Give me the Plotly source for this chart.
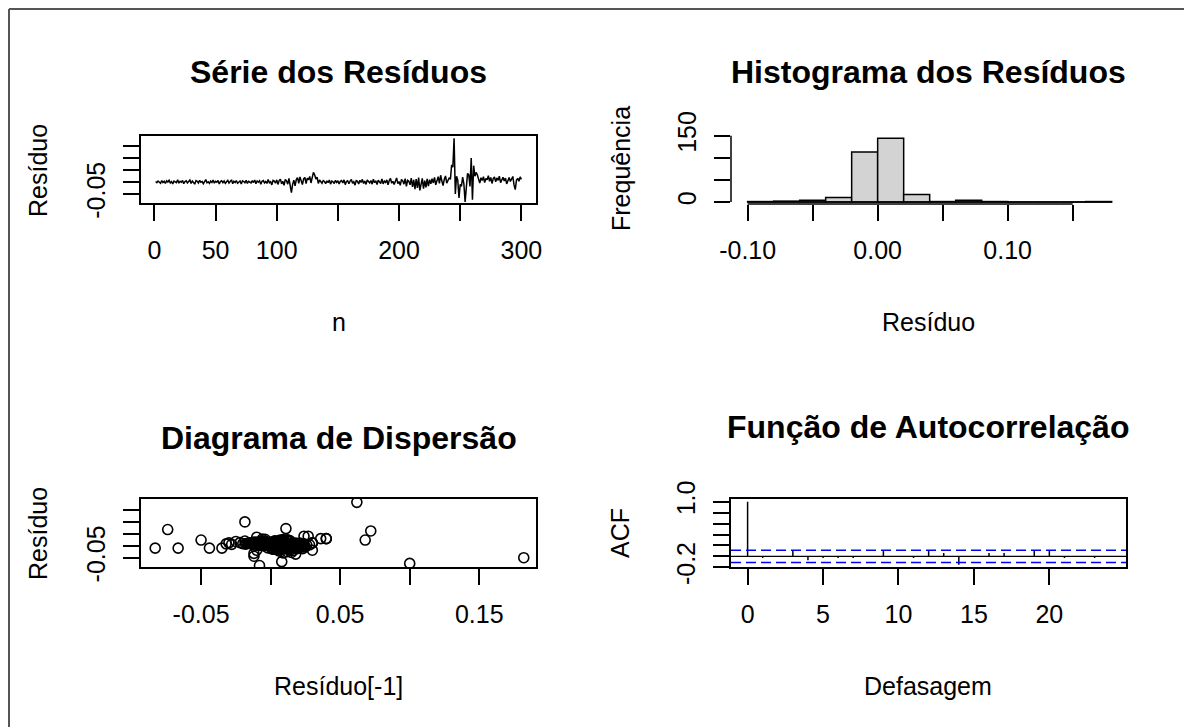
import plotly.graph_objects as go

W, H = 1192, 727

# ---------------- data ----------------
residuo = [
    0.002, -0.003, 0.004, 0.001, -0.005, 0.006, -0.002, 0.003, -0.006, 0.005,
    0.000, 0.007, -0.004, 0.002, -0.008, 0.004, 0.001, -0.003, 0.009, -0.005,
    0.003, -0.001, 0.006, -0.007, 0.002, 0.005, -0.004, 0.001, 0.008, -0.006,
    0.004, -0.002, -0.009, 0.006, 0.003, -0.004, 0.007, -0.001, 0.002, -0.007,
    0.005, 0.010, -0.003, 0.001, -0.006, 0.004, -0.002, 0.008, -0.005, 0.003,
    -0.001, 0.006, -0.008, 0.002, 0.005, -0.003, 0.004, -0.006, 0.001, 0.007,
    -0.004, 0.002, 0.009, -0.007, 0.003, -0.002, 0.006, -0.005, 0.000, 0.004,
    -0.008, 0.005, 0.002, -0.003, 0.007, -0.006, 0.003, 0.001, -0.004, 0.006,
    -0.002, 0.008, -0.007, 0.004, -0.001, 0.005, -0.009, 0.003, 0.006, -0.004,
    0.002, -0.006, 0.010, -0.003, 0.001, -0.012, 0.007, 0.004, -0.005, 0.009,
    -0.010, 0.006, 0.012, -0.008, 0.003, -0.014, 0.011, 0.005, -0.009, 0.015,
    -0.012, -0.044, -0.010, 0.008, -0.016, 0.010, 0.018, -0.006, 0.021, 0.004,
    -0.011, 0.013, 0.019, -0.007, 0.016, 0.009, 0.023, -0.004, 0.027, 0.040,
    0.030, 0.012, 0.020, -0.006, 0.008, 0.003, -0.005, 0.006, 0.002, -0.007,
    0.005, -0.003, 0.008, -0.009, 0.004, 0.001, -0.006, 0.007, -0.002, 0.005,
    -0.008, 0.003, 0.006, -0.004, 0.009, -0.011, 0.002, 0.005, -0.007, 0.004,
    0.010, -0.005, 0.001, -0.013, 0.006, 0.003, -0.008, 0.007, -0.002, 0.011,
    -0.006, 0.004, -0.010, 0.008, 0.002, -0.004, 0.006, -0.009, 0.012, -0.003,
    0.005, -0.011, 0.007, 0.001, -0.006, 0.013, -0.008, 0.004, -0.002, 0.009,
    -0.012, 0.006, 0.015, -0.005, 0.003, -0.010, 0.008, 0.017, -0.007, 0.002,
    -0.014, 0.011, 0.005, -0.009, 0.014, -0.018, 0.007, 0.003, -0.012, 0.016,
    -0.020, 0.009, -0.030, 0.012, -0.025, 0.018, -0.035, -0.010, 0.015, -0.028,
    0.006, -0.022, 0.013, -0.017, 0.010, -0.008, 0.014, -0.004, 0.019, -0.012,
    0.008, 0.022, -0.006, 0.028, 0.004, -0.015, 0.012, 0.025, -0.005, 0.010,
    0.018, 0.011, 0.072, 0.062, 0.182, -0.050, 0.024, 0.008, -0.0665, -0.010,
    -0.0185, 0.020, -0.008, -0.083, -0.010, 0.036, 0.030, -0.0185, 0.100, -0.074,
    0.068, 0.024, 0.040, 0.030, 0.012, -0.004, 0.018, 0.006, 0.022, -0.002,
    0.015, 0.009, 0.026, 0.003, 0.019, -0.006, 0.014, 0.021, 0.001, 0.017,
    0.007, 0.024, -0.003, 0.012, 0.020, 0.004, 0.016, -0.008, 0.010, 0.019,
    0.002, 0.013, 0.023, -0.012, -0.032, 0.008, 0.015, 0.003, 0.021, 0.011,
]
n = list(range(1, len(residuo) + 1))

hist_edges = [-0.10, -0.08, -0.06, -0.04, -0.02, 0.00, 0.02, 0.04,
              0.06, 0.08, 0.10, 0.12, 0.14, 0.16, 0.18]
hist_counts = [1, 2, 4, 10, 113, 144, 17, 1, 4, 1, 0, 0, 0, 1]

acf_lags = list(range(25))
acf_vals = [1.0, -0.03, 0.005, 0.11, -0.07, -0.03, -0.03, -0.03, 0.005, 0.115,
            0.005, -0.03, 0.115, 0.06, -0.155, 0.005, 0.06, 0.06, 0.005, 0.115,
            0.115, -0.03, 0.005, -0.03, 0.005]
acf_ci = 0.113

# tick labels (R drops overlapping ones)
ts_xticks = [0, 50, 100, 150, 200, 250, 300]
ts_xtext = ["0", "50", "100", "", "200", "", "300"]
res_yticks = [-0.05, 0.0, 0.05, 0.10, 0.15]
res_ytext = ["-0.05", "", "", "", ""]
hist_xticks = [-0.10, -0.05, 0.0, 0.05, 0.10, 0.15]
hist_xtext = ["-0.10", "", "0.00", "", "0.10", ""]
hist_yticks = [0, 50, 100, 150]
hist_ytext = ["0", "", "", "150"]
sc_xticks = [-0.05, 0.0, 0.05, 0.10, 0.15]
sc_xtext = ["-0.05", "", "0.05", "", "0.15"]
acf_xticks = [0, 5, 10, 15, 20]
acf_xtext = ["0", "5", "10", "15", "20"]
acf_yticks = [-0.2, 0.0, 0.2, 0.4, 0.6, 0.8, 1.0]
acf_ytext = ["-0.2", "", "", "", "", "", "1.0"]

# ---------------- helpers ----------------
OFF = 8  # page body margin: figure is drawn 8px right/down of the window origin


def fx(p):
    return (p - OFF) / W


def fy(p):
    return 1 - (p - OFF) / H


FONT = "Arial, Liberation Sans, sans-serif"
TICKFONT = dict(family=FONT, size=25, color="black")
LW = 1.5

LEFT = (141, 536)
RIGHT = (731, 1126)
ROW1 = (136, 203)
ROW2 = (499, 567)


def axis(domain, rng, tickvals, ticktext, box=True, angle=None, anchor=None, standoff=8):
    d = dict(domain=domain, range=rng, tickvals=tickvals, ticktext=ticktext,
             tickmode="array", automargin=False,
             ticks="outside", ticklen=16, tickwidth=LW, tickcolor="black",
             showgrid=False, zeroline=False, tickfont=TICKFONT,
             showline=box, mirror=box, linecolor="black", linewidth=LW,
             ticklabelstandoff=standoff, fixedrange=True)
    if angle is not None:
        d["tickangle"] = angle
    if anchor:
        d["anchor"] = anchor
    return d


fig = go.Figure()

# Panel 1: série
fig.add_trace(go.Scatter(x=n, y=residuo, mode="lines",
                         line=dict(color="black", width=1.5),
                         xaxis="x", yaxis="y", showlegend=False))

# Panel 2: histograma
centers = [(a + b) / 2 for a, b in zip(hist_edges[:-1], hist_edges[1:])]
fig.add_trace(go.Bar(x=centers, y=hist_counts, width=hist_edges[1] - hist_edges[0],
                     marker=dict(color="#D3D3D3", line=dict(color="black", width=LW)),
                     xaxis="x2", yaxis="y2", showlegend=False))

# Panel 3: dispersão (lag 1)
fig.add_trace(go.Scatter(x=residuo[:-1], y=residuo[1:], mode="markers",
                         marker=dict(symbol="circle-open", size=10, color="black",
                                     line=dict(width=1.6)),
                         xaxis="x3", yaxis="y3", showlegend=False))

# Panel 4: ACF spikes
sx, sy = [], []
for lag, v in zip(acf_lags, acf_vals):
    sx += [lag, lag, None]
    sy += [0, v, None]
fig.add_trace(go.Scatter(x=sx, y=sy, mode="lines", line=dict(color="black", width=1.5),
                         xaxis="x4", yaxis="y4", showlegend=False))

fig.update_layout(
    template="none",
    width=W, height=H, margin=dict(l=0, r=0, t=0, b=0, pad=0, autoexpand=False),
    paper_bgcolor="white", plot_bgcolor="white",
    font=dict(family=FONT, color="black"),
    showlegend=False,
    xaxis=axis([fx(LEFT[0]), fx(LEFT[1])], [-10.96, 311.96], ts_xticks, ts_xtext, anchor="y"),
    yaxis=axis([fy(ROW1[1]), fy(ROW1[0])], [-0.0875, 0.1917], res_yticks, res_ytext, angle=-90, anchor="x"),
    xaxis2=axis([fx(RIGHT[0]), fx(RIGHT[1])], [-0.1128, 0.191], hist_xticks, hist_xtext, box=False, anchor="y2"),
    yaxis2=axis([fy(204), fy(135)], [-4.52, 151.6], hist_yticks, hist_ytext, box=False, angle=-90, anchor="x2"),
    xaxis3=axis([fx(LEFT[0]), fx(LEFT[1])], [-0.0932, 0.1908], sc_xticks, sc_xtext, anchor="y3"),
    yaxis3=axis([fy(ROW2[1]), fy(ROW2[0])], [-0.089, 0.196], res_yticks, res_ytext, angle=-90, anchor="x3"),
    xaxis4=axis([fx(RIGHT[0]), fx(RIGHT[1])], [-1.1, 25.08], acf_xticks, acf_xtext, anchor="y4"),
    yaxis4=axis([fy(567.3), fy(ROW2[0])], [-0.2, 1.05], acf_yticks, acf_ytext, angle=-90, anchor="x4"),
)

shapes = []
# histogram axis lines (only between first and last tick, like R)
shapes.append(dict(type="line", xref="x2", yref="y2 domain", x0=hist_xticks[0], x1=hist_xticks[-1],
                   y0=0, y1=0, line=dict(color="black", width=LW)))
shapes.append(dict(type="line", xref="x2 domain", yref="y2", x0=0, x1=0,
                   y0=hist_yticks[0], y1=hist_yticks[-1], line=dict(color="black", width=LW)))
shapes.append(dict(type="line", xref="x2", yref="y2", x0=hist_edges[0], x1=hist_edges[-1],
                   y0=0, y1=0, line=dict(color="black", width=LW)))
# ACF reference lines
shapes.append(dict(type="line", xref="x4 domain", yref="y4", x0=0, x1=1, y0=0, y1=0,
                   line=dict(color="black", width=1.3)))
for c in (acf_ci, -acf_ci):
    shapes.append(dict(type="line", xref="x4 domain", yref="y4", x0=0, x1=1, y0=c, y1=c,
                       line=dict(color="#0000FF", width=1.5, dash="10px,5px")))
# outer frame (top edge as close to the window top as the page allows)
shapes.append(dict(type="line", xref="paper", yref="paper", x0=fx(9), x1=1, y0=1 - 1 / H, y1=1 - 1 / H,
                   line=dict(color="#555555", width=2)))
shapes.append(dict(type="line", xref="paper", yref="paper", x0=fx(9), x1=fx(9), y0=0, y1=1 - 1 / H,
                   line=dict(color="#555555", width=2)))
fig.update_layout(shapes=shapes)

ann = []


def text(s, xp, yp, size=25, bold=False, angle=0):
    ann.append(dict(text=s, x=fx(xp), y=fy(yp), xref="paper", yref="paper",
                    showarrow=False, xanchor="center", yanchor="middle", textangle=angle,
                    font=dict(family=FONT, size=size, color="black",
                              weight=700 if bold else 400)))


cL = (LEFT[0] + LEFT[1]) / 2
cR = (RIGHT[0] + RIGHT[1]) / 2
text("Série dos Resíduos", cL, 72, 32, True)
text("Histograma dos Resíduos", cR, 72, 32, True)
text("Diagrama de Dispersão", cL, 438, 32, True)
text("Função de Autocorrelação", cR, 427, 32, True)
text("n", cL, 322)
text("Resíduo", cR, 322)
text("Resíduo[-1]", cL, 686)
text("Defasagem", cR, 686)
text("Resíduo", 38, 170, angle=-90)
text("Frequência", 621, 169, angle=-90)
text("Resíduo", 38, 533, angle=-90)
text("ACF", 620, 533, angle=-90)
fig.update_layout(annotations=ann)

fig.write_html("out.html")
